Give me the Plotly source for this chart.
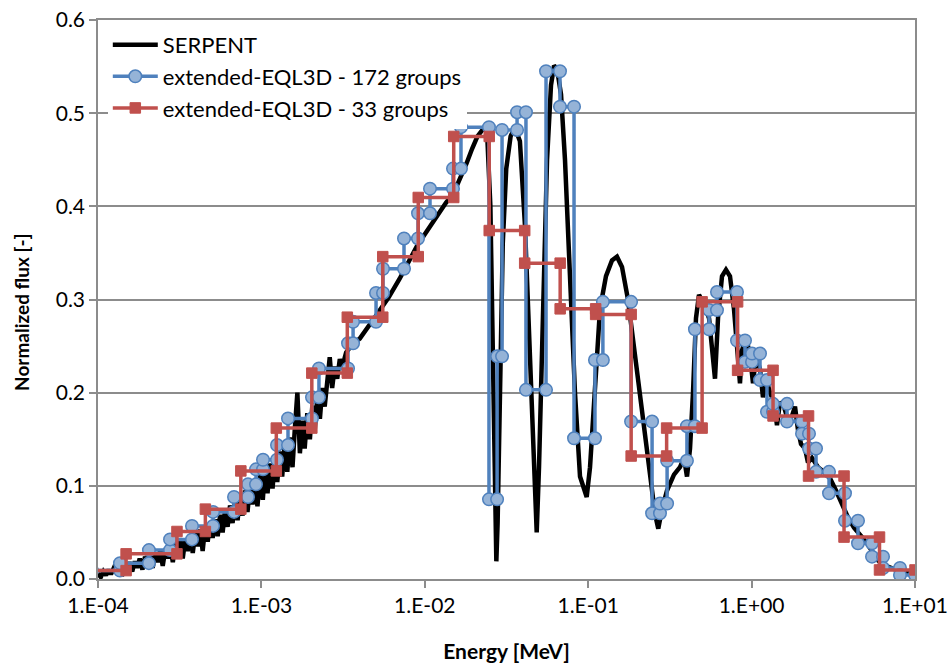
import plotly.graph_objects as go

# ---------------- SERPENT reference spectrum (energy in MeV, normalized flux) ----------------
serpent_energy = [
    1.00e-4, 1.04e-4, 1.08e-4, 1.12e-4, 1.16e-4, 1.20e-4, 1.25e-4, 1.30e-4, 1.35e-4, 1.40e-4,
    1.45e-4, 1.50e-4, 1.56e-4, 1.62e-4, 1.68e-4, 1.74e-4, 1.80e-4, 1.87e-4, 1.94e-4, 2.01e-4,
    2.08e-4, 2.16e-4, 2.24e-4, 2.32e-4, 2.40e-4, 2.49e-4, 2.58e-4, 2.67e-4, 2.77e-4, 2.87e-4,
    2.97e-4, 3.08e-4, 3.19e-4, 3.30e-4, 3.42e-4, 3.54e-4, 3.67e-4, 3.80e-4, 3.94e-4, 4.08e-4,
    4.22e-4, 4.37e-4, 4.53e-4, 4.69e-4, 4.86e-4, 5.03e-4, 5.21e-4, 5.40e-4, 5.59e-4, 5.79e-4,
    6.00e-4, 6.21e-4, 6.43e-4, 6.66e-4, 6.90e-4, 7.15e-4, 7.40e-4, 7.67e-4, 7.94e-4, 8.22e-4,
    8.52e-4, 8.82e-4, 9.14e-4, 9.46e-4, 9.80e-4, 1.02e-3, 1.05e-3, 1.09e-3, 1.13e-3, 1.17e-3,
    1.21e-3, 1.25e-3, 1.30e-3, 1.34e-3, 1.39e-3, 1.44e-3, 1.49e-3, 1.55e-3, 1.60e-3, 1.66e-3,
    1.72e-3, 1.78e-3, 1.84e-3, 1.91e-3, 1.98e-3, 2.05e-3, 2.12e-3, 2.20e-3, 2.28e-3, 2.36e-3,
    2.44e-3, 2.53e-3, 2.62e-3, 2.71e-3, 2.81e-3, 2.91e-3, 3.02e-3, 3.13e-3, 3.30e-3, 3.60e-3,
    4.00e-3, 5.00e-3, 6.00e-3, 7.00e-3, 8.00e-3, 9.00e-3, 1.00e-2, 1.10e-2, 1.20e-2, 1.35e-2,
    1.50e-2, 1.65e-2, 1.80e-2, 1.95e-2, 2.10e-2, 2.25e-2, 2.40e-2, 2.52e-2, 2.62e-2, 2.70e-2,
    2.74e-2, 2.79e-2, 2.88e-2, 3.00e-2, 3.15e-2, 3.35e-2, 3.55e-2, 3.82e-2, 4.10e-2, 4.40e-2,
    4.66e-2, 4.84e-2, 5.00e-2, 5.29e-2, 5.60e-2, 5.92e-2, 6.18e-2, 6.44e-2, 6.82e-2, 7.21e-2,
    7.74e-2, 8.30e-2, 8.91e-2, 9.79e-2, 0.1026, 0.110, 0.1181, 0.1285, 0.1398, 0.150,
    0.161, 0.1752, 0.1934, 0.2134, 0.2355, 0.2563, 0.2685, 0.2829, 0.3036, 0.335,
    0.3646, 0.3858, 0.4024, 0.4198, 0.4379, 0.4567, 0.4766, 0.4971, 0.511, 0.549,
    0.5805, 0.597, 0.623, 0.659, 0.697, 0.7375, 0.780, 0.814, 0.849, 0.873,
    0.924, 0.978, 1.020, 1.064, 1.126, 1.174, 1.225, 1.296, 1.371, 1.430,
    1.492, 1.579, 1.670, 1.767, 1.843, 1.923, 2.006, 2.123, 2.214, 2.342,
    2.550, 2.774, 3.019, 3.285, 3.574, 3.890, 4.234, 4.607, 5.013, 5.455,
    5.937, 6.461, 7.031, 7.870, 8.811, 10.0,
]
serpent_flux = [
    0.006, 0.002, 0.008, 0.004, 0.010, 0.005, 0.012, 0.008, 0.014, 0.003,
    0.015, 0.010, 0.018, 0.008, 0.019, 0.012, 0.022, 0.010, 0.024, 0.015,
    0.026, 0.012, 0.028, 0.018, 0.030, 0.014, 0.032, 0.022, 0.036, 0.018,
    0.038, 0.026, 0.041, 0.022, 0.043, 0.030, 0.047, 0.028, 0.050, 0.035,
    0.053, 0.030, 0.057, 0.040, 0.060, 0.044, 0.064, 0.046, 0.069, 0.050,
    0.075, 0.056, 0.079, 0.060, 0.084, 0.063, 0.089, 0.068, 0.095, 0.072,
    0.100, 0.080, 0.105, 0.078, 0.112, 0.085, 0.118, 0.092, 0.124, 0.097,
    0.130, 0.104, 0.137, 0.110, 0.145, 0.115, 0.152, 0.120, 0.160, 0.200,
    0.135, 0.170, 0.140, 0.178, 0.150, 0.186, 0.160, 0.195, 0.172, 0.205,
    0.185, 0.215, 0.238, 0.205, 0.228, 0.215, 0.236, 0.228, 0.243, 0.252,
    0.258, 0.282, 0.302, 0.322, 0.342, 0.358, 0.370, 0.381, 0.392, 0.404,
    0.414, 0.430, 0.446, 0.462, 0.475, 0.482, 0.483, 0.400, 0.200, 0.050,
    0.019, 0.060, 0.200, 0.360, 0.440, 0.475, 0.485, 0.470, 0.380, 0.250,
    0.120, 0.050, 0.120, 0.300, 0.450, 0.530, 0.551, 0.548, 0.520, 0.450,
    0.330, 0.200, 0.110, 0.088, 0.120, 0.210, 0.290, 0.325, 0.342, 0.346,
    0.335, 0.300, 0.240, 0.180, 0.120, 0.070, 0.054, 0.075, 0.095, 0.112,
    0.120, 0.130, 0.110, 0.140, 0.200, 0.280, 0.305, 0.300, 0.295, 0.280,
    0.230, 0.215, 0.280, 0.325, 0.332, 0.325, 0.290, 0.250, 0.210, 0.245,
    0.260, 0.240, 0.210, 0.240, 0.225, 0.195, 0.215, 0.200, 0.190, 0.165,
    0.190, 0.185, 0.170, 0.175, 0.185, 0.160, 0.145, 0.140, 0.125, 0.130,
    0.120, 0.115, 0.108, 0.095, 0.080, 0.066, 0.055, 0.048, 0.040, 0.030,
    0.020, 0.015, 0.012, 0.009, 0.007, 0.004,
]

# ---------------- extended-EQL3D, 172-group solution (visible groups) ----------------
g172_bounds = [
    9.19e-5, 1.363e-4, 2.05e-4, 2.76e-4, 3.76e-4, 5.06e-4, 6.80e-4, 8.28e-4, 9.27e-4, 1.023e-3,
    1.246e-3, 1.455e-3, 2.04e-3, 2.25e-3, 3.39e-3, 3.64e-3, 5.03e-3, 5.55e-3, 7.46e-3, 9.09e-3,
    1.076e-2, 1.488e-2, 1.665e-2, 2.47e-2, 2.77e-2, 2.97e-2, 3.67e-2, 4.16e-2, 5.52e-2, 6.72e-2,
    8.19e-2, 0.110, 0.123, 0.183, 0.246, 0.275, 0.304, 0.402, 0.450, 0.549,
    0.614, 0.814, 0.911, 1.006, 1.126, 1.242, 1.352, 1.647, 2.035, 2.245,
    2.479, 2.977, 3.729, 4.479, 5.457, 6.372, 8.094, 10.0,
]
g172_flux = [
    0.009, 0.017, 0.031, 0.0425, 0.057, 0.072, 0.088, 0.1016, 0.1177, 0.128,
    0.1438, 0.1724, 0.195, 0.226, 0.253, 0.276, 0.307, 0.333, 0.3655, 0.3925,
    0.419, 0.4405, 0.485, 0.0855, 0.239, 0.482, 0.501, 0.203, 0.545, 0.507,
    0.151, 0.235, 0.2975, 0.169, 0.0705, 0.081, 0.127, 0.164, 0.268, 0.2886,
    0.308, 0.256, 0.233, 0.242, 0.2135, 0.1795, 0.188, 0.169, 0.156, 0.140,
    0.115, 0.092, 0.0626, 0.0383, 0.024, 0.0118, 0.0043,
]

# ---------------- extended-EQL3D, 33-group solution (visible groups) ----------------
g33_bounds = [
    9.166e-5, 1.486e-4, 3.043e-4, 4.540e-4, 7.485e-4, 1.234e-3, 2.035e-3, 3.355e-3, 5.531e-3,
    9.119e-3, 1.503e-2, 2.479e-2, 4.087e-2, 6.738e-2, 0.1111, 0.1832, 0.3020, 0.4979,
    0.8209, 1.353, 2.231, 3.679, 6.065, 10.0,
]
g33_flux = [
    0.009, 0.027, 0.051, 0.075, 0.116, 0.162, 0.221, 0.281, 0.346, 0.4095,
    0.475, 0.374, 0.339, 0.290, 0.284, 0.132, 0.162, 0.2975, 0.224, 0.175,
    0.1105, 0.045, 0.0097,
]

x_tickvals = [1e-4, 1e-3, 1e-2, 1e-1, 1e0, 1e1]
x_ticktext = ["1.E-04", "1.E-03", "1.E-02", "1.E-01", "1.E+00", "1.E+01"]
y_tickvals = [0.0, 0.1, 0.2, 0.3, 0.4, 0.5, 0.6]
y_ticktext = ["0.0", "0.1", "0.2", "0.3", "0.4", "0.5", "0.6"]


def step_points(bounds, values):
    """Expand group-wise fluxes into a histogram line with a point at each group edge."""
    xs, ys = [], []
    for i, v in enumerate(values):
        xs += [bounds[i], bounds[i + 1]]
        ys += [v, v]
    return xs, ys


x172, y172 = step_points(g172_bounds, g172_flux)
x33, y33 = step_points(g33_bounds, g33_flux)

FONT = "Lato, 'Open Sans', sans-serif"
GRID = "#8c8c8c"

fig = go.Figure()
fig.add_trace(go.Scatter(
    x=serpent_energy, y=serpent_flux, mode="lines", name="SERPENT",
    line=dict(color="black", width=4.5),
))
fig.add_trace(go.Scatter(
    x=x172, y=y172, mode="lines+markers", name="extended-EQL3D - 172 groups",
    line=dict(color="#4F81BD", width=3.5),
    marker=dict(symbol="circle", size=12.5, color="#95B3D7",
                line=dict(color="#4F81BD", width=1.5)),
))
fig.add_trace(go.Scatter(
    x=x33, y=y33, mode="lines+markers", name="extended-EQL3D - 33 groups",
    line=dict(color="#C0504D", width=3.5),
    marker=dict(symbol="square", size=10.5, color="#C0504D",
                line=dict(color="#C0504D", width=1)),
))

fig.update_layout(
    width=952, height=663,
    margin=dict(l=98, r=37, t=20, b=84, autoexpand=False),
    paper_bgcolor="white", plot_bgcolor="white",
    font=dict(family=FONT, size=22, color="black"),
    showlegend=True,
    legend=dict(
        x=0.012, y=0.993, xanchor="left", yanchor="top",
        bgcolor="white", borderwidth=0,
        font=dict(family=FONT, size=22, color="black"),
        itemwidth=45, traceorder="normal",
    ),
    xaxis=dict(
        type="log", range=[-4, 1], automargin=False,
        tickvals=x_tickvals, ticktext=x_ticktext,
        showgrid=False, zeroline=False,
        showline=True, linecolor=GRID, linewidth=1.5, mirror=True,
        ticks="outside", ticklen=7, tickcolor=GRID, tickwidth=1.5,
        tickfont=dict(family=FONT, size=21),
        title=dict(text="<b>Energy [MeV]</b>", font=dict(family=FONT, size=21), standoff=28),
    ),
    yaxis=dict(
        range=[0, 0.6], automargin=False,
        tickvals=y_tickvals, ticktext=y_ticktext,
        showgrid=True, gridcolor=GRID, gridwidth=1.5, zeroline=False,
        showline=True, linecolor=GRID, linewidth=1.5, mirror=True,
        ticks="outside", ticklen=7, tickcolor=GRID, tickwidth=1.5,
        tickfont=dict(family=FONT, size=21),
    ),
    annotations=[dict(
        text="<b>Normalized flux [-]</b>", textangle=-90,
        xref="paper", yref="paper", x=-0.093, y=0.476,
        xanchor="center", yanchor="middle", showarrow=False,
        font=dict(family=FONT, size=19, color="black"),
    )],
)

fig.write_html("out.html")
